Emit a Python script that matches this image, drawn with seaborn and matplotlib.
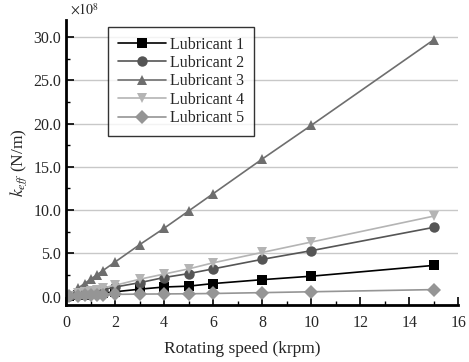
"""Stiffness k_eff vs rotating speed for five lubricants."""

import matplotlib

matplotlib.use("Agg")
import matplotlib.pyplot as plt
import pandas as pd
import seaborn as sns
from matplotlib.ticker import MultipleLocator

speed = [0.1, 0.5, 0.75, 1.0, 1.25, 1.5, 2, 3, 4, 5, 6, 8, 10, 15]
lub1 = [0.05, 0.15, 0.2, 0.3, 0.35, 0.4, 0.55, 0.85, 1.1, 1.2, 1.5, 1.95, 2.35, 3.6]
lub2 = [0.1, 0.3, 0.4, 0.55, 0.65, 0.8, 1.1, 1.6, 2.2, 2.65, 3.2, 4.3, 5.3, 8.0]
lub3 = [0.2, 1.0, 1.5, 2.0, 2.5, 3.0, 4.0, 6.0, 7.9, 9.9, 11.9, 15.9, 19.8, 29.7]
lub4 = [0.1, 0.35, 0.5, 0.65, 0.8, 1.0, 1.3, 2.0, 2.6, 3.2, 3.9, 5.1, 6.3, 9.3]
lub5 = [0.02, 0.1, 0.12, 0.15, 0.17, 0.2, 0.25, 0.28, 0.3, 0.32, 0.35, 0.45, 0.55, 0.8]

names = ["Lubricant 1", "Lubricant 2", "Lubricant 3", "Lubricant 4", "Lubricant 5"]
colors = ["#000000", "#555555", "#6e6e6e", "#b4b4b4", "#959595"]
markers = ["s", "o", "^", "v", "D"]


def main() -> None:
    rows = []
    for name, vals in zip(names, [lub1, lub2, lub3, lub4, lub5]):
        for s, v in zip(speed, vals):
            rows.append({"speed": s, "k": v, "lub": name})
    df = pd.DataFrame(rows)

    sns.set_theme(style="ticks")
    plt.rcParams["font.family"] = ["Liberation Serif", "DejaVu Serif"]
    plt.rcParams["mathtext.fontset"] = "stix"

    fig = plt.figure(figsize=(4.69, 3.62), dpi=100)
    ax = fig.add_axes([0.141, 0.157, 0.836, 0.788])

    for y in [5, 10, 15, 20, 25, 30]:
        ax.axhline(y, color="#c8c8c8", lw=1.0, zorder=0)

    sns.lineplot(
        data=df,
        x="speed",
        y="k",
        hue="lub",
        style="lub",
        palette=colors,
        markers=markers,
        dashes=False,
        markersize=7.5,
        markeredgewidth=0,
        linewidth=1.2,
        ax=ax,
    )

    ax.set_xlim(0, 16)
    ax.set_ylim(-1, 32)
    ax.xaxis.set_major_locator(MultipleLocator(2))
    ax.xaxis.set_minor_locator(MultipleLocator(1))
    ax.yaxis.set_minor_locator(MultipleLocator(2.5))
    ax.set_yticks([0, 5, 10, 15, 20, 25, 30])
    ax.set_yticklabels([f"{v:.1f}" for v in [0, 5, 10, 15, 20, 25, 30]])
    ax.tick_params(which="both", direction="in", labelsize=11.5, color="black")
    ax.tick_params(which="major", length=6, width=1.2)
    ax.tick_params(which="minor", length=3, width=1.0)
    ax.tick_params(axis="x", which="major", pad=7)

    for side in ["top", "right"]:
        ax.spines[side].set_visible(False)
    for side in ["left", "bottom"]:
        ax.spines[side].set_linewidth(2.0)
        ax.spines[side].set_color("black")

    ax.set_xlabel("Rotating speed (krpm)", fontsize=12.5)
    ax.xaxis.set_label_coords(0.45, -0.125)
    ax.set_ylabel(r"$k_{eff}$ (N/m)", fontsize=12.5, labelpad=3)
    ax.text(0.01, 1.035, r"$\times10^8$", transform=ax.transAxes, fontsize=10,
            ha="left", va="center")

    leg = ax.legend(
        loc="upper left",
        bbox_to_anchor=(0.107, 0.975),
        borderaxespad=0,
        frameon=True,
        fancybox=False,
        edgecolor="black",
        fontsize=11.5,
        handlelength=3.0,
        handletextpad=0.3,
        labelspacing=0.15,
        borderpad=0.6,
    )
    leg.get_frame().set_linewidth(1.0)
    leg.set_title(None)

    fig.savefig("out.png", dpi=100)
    plt.close(fig)


if __name__ == "__main__":
    main()
